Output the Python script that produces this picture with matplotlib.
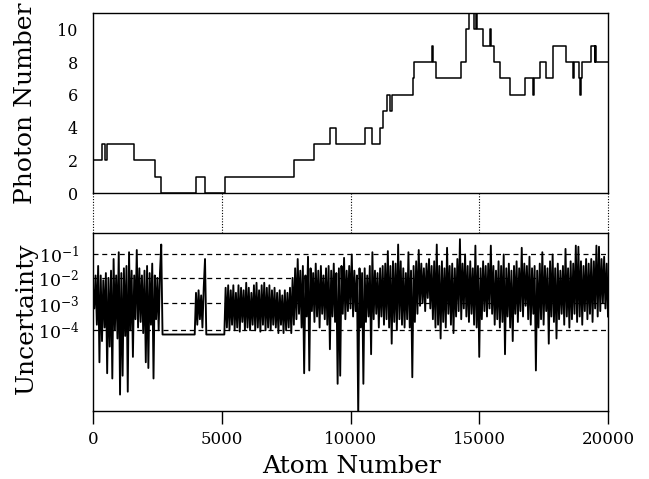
import numpy as np
import matplotlib
matplotlib.use("Agg")
import matplotlib.pyplot as plt
from matplotlib.ticker import NullLocator

plt.rcParams['font.family'] = ['DejaVu Serif']
plt.rcParams['mathtext.fontset'] = 'dejavuserif'

# ---------------- data ----------------
# top panel: photon number (step starts in atom number, level)
step_start = [0, 350, 450, 540, 1592, 2408, 2656, 3988, 4338, 5115, 7802, 8571, 9219, 9425,
              10551, 10823, 11160, 11262, 11418, 11520, 11620, 12440, 12480, 13150, 13185,
              13309, 14306, 14500, 14590, 14796, 14862, 14928, 15146, 15406, 15471, 15561,
              15794, 16209, 16765, 17100, 17130, 17348, 17607, 17864, 18383, 18650,
              18690, 18860, 18920, 18950, 19000, 19354, 19480, 19500, 19522]
photon_level = [2, 3, 2, 3, 2, 1, 0, 1, 0, 1, 2, 3, 4, 3,
                4, 3, 4, 5, 6, 5, 6, 7, 8, 9, 8,
                7, 8, 10, 11, 10, 11, 10, 9, 10, 9, 8,
                7, 6, 7, 6, 7, 8, 7, 9, 8, 7,
                8, 7, 6, 7, 8, 9, 8, 9, 8]
atom_max = 20000

# bottom panel: log10(uncertainty), sampled every 50 atoms
unc_0k = [-2.4, -3.2, -1.9, -3.8, -1.5, -5.1, -1.9, -4.38, -2.1, -3.9, -1.8, -5.46, -2.0, -4.57, -1.7, -5.63, -1.2, -4.0, -1.9, -4.29]
unc_1k = [-0.9, -6.14, -1.8, -5.54, -1.6, -4.2, -1.5, -6.05, -0.9, -4.0, -1.7, -4.92, -1.9, -3.6, -0.8, -3.9, -1.6, -3.7, -1.9, -4.1]
unc_2k = [-1.7, -5.1, -1.5, -5.29, -1.8, -3.8, -1.4, -5.63, -1.9, -3.6, -2.0, -4.0, -1.8, -0.55, -4.15, -4.15, -4.15, -4.15, -4.15, -4.15]
unc_3k = [-4.15, -4.15, -4.15, -4.15, -4.15, -4.15, -4.15, -4.15, -4.15, -4.15, -4.15, -4.15, -4.15, -4.15, -4.15, -4.15, -4.15, -4.15, -4.15, -4.15]
unc_4k = [-2.6, -3.8, -2.5, -3.6, -2.7, -3.9, -2.4, -1.2, -4.15, -4.15, -4.15, -4.15, -4.15, -4.15, -4.15, -4.15, -4.15, -4.15, -4.15, -4.15]
unc_5k = [-4.15, -4.15, -4.15, -2.4, -3.9, -2.3, -4.0, -2.5, -3.8, -2.3, -4.0, -2.6, -3.9, -2.3, -4.05, -2.4, -3.7, -2.5, -4.0, -2.2]
unc_6k = [-3.9, -2.4, -4.0, -2.6, -3.8, -2.3, -4.0, -2.2, -3.9, -2.5, -4.05, -2.3, -3.8, -2.2, -4.0, -2.4, -3.9, -2.3, -4.0, -2.5]
unc_7k = [-3.8, -2.4, -3.9, -2.6, -4.1, -2.5, -3.8, -2.7, -4.1, -2.5, -4.0, -2.6, -3.9, -2.4, -4.1, -2.0, -3.8, -1.6, -3.6, -1.2]
unc_8k = [-3.4, -1.7, -3.9, -1.5, -5.46, -1.9, -3.5, -1.1, -5.37, -1.6, -3.3, -1.8, -3.7, -1.4, -3.5, -1.7, -3.9, -1.5, -3.4, -1.9]
unc_9k = [-3.6, -1.6, -3.8, -1.5, -4.66, -1.7, -3.5, -1.4, -3.7, -1.8, -5.8, -1.6, -5.54, -1.5, -3.4, -1.15, -3.6, -1.7, -3.3, -1.5]
unc_10k = [-3.2, -1.0, -3.5, -1.7, -3.3, -1.9, -6.8, -1.6, -3.9, -1.8, -5.8, -1.6, -3.7, -1.9, -3.5, -1.5, -4.83, -0.9, -3.6, -1.7]
unc_11k = [-3.4, -1.8, -3.9, -1.6, -3.5, -1.5, -3.8, -1.4, -3.6, -0.85, -3.9, -1.5, -4.47, -1.3, -3.7, -1.4, -4.0, -0.55, -3.6, -1.3]
unc_12k = [-3.8, -1.6, -3.9, -1.8, -3.6, -0.9, -3.9, -1.7, -5.59, -1.5, -3.7, -1.3, -3.4, -0.8, -3.1, -1.4, -3.0, -1.6, -3.3, -1.4]
unc_13k = [-2.8, -1.2, -3.2, -1.5, -3.6, -1.3, -3.9, -0.55, -3.8, -1.5, -4.29, -1.3, -3.7, -1.6, -3.9, -0.7, -3.4, -1.5, -3.8, -1.4]
unc_14k = [-4.1, -1.6, -3.5, -1.2, -3.3, -0.3, -3.6, -1.4, -3.2, -1.0, -3.5, -1.5, -3.7, -1.3, -3.4, -1.6, -3.8, -0.6, -3.9, -1.5]
unc_15k = [-4.92, -1.6, -3.6, -1.3, -3.3, -1.5, -3.5, -1.4, -3.2, -0.6, -3.4, -1.5, -3.8, -1.7, -3.6, -1.3, -3.9, -1.5, -3.7, -1.0]
unc_16k = [-4.83, -1.6, -3.5, -1.4, -3.9, -1.7, -4.38, -1.5, -3.4, -1.3, -3.7, -1.6, -3.3, -0.7, -3.5, -1.4, -3.1, -1.5, -3.6, -1.1]
unc_17k = [-3.8, -1.6, -3.4, -1.5, -5.37, -1.7, -3.9, -1.4, -3.6, -0.9, -3.8, -1.5, -3.3, -1.6, -4.47, -1.3, -3.5, -1.0, -3.7, -1.6]
unc_18k = [-4.29, -1.4, -3.6, -1.7, -3.4, -1.5, -3.8, -0.75, -3.5, -1.6, -3.9, -1.3, -3.6, -1.4, -3.4, -0.6, -3.7, -0.65, -3.5, -1.3]
unc_19k = [-3.8, -1.5, -3.3, -1.2, -3.6, -1.4, -3.4, -1.2, -3.7, -1.3, -3.2, -0.6, -3.5, -0.65, -3.3, -1.2, -3.0, -1.1, -3.2, -1.4, -3.5]

x_ticks = [0, 5000, 10000, 15000, 20000]
photon_ticks = [0, 2, 4, 6, 8, 10]
unc_ticks = [1e-1, 1e-2, 1e-3, 1e-4]
unc_tick_labels = [r'$10^{-1}$', r'$10^{-2}$', r'$10^{-3}$', r'$10^{-4}$']

# ---------------- figure ----------------
W, H = 649, 479
fig = plt.figure(figsize=(W / 100, H / 100), dpi=100)

def box(l, t, r, b):
    return [l / W, 1 - b / H, (r - l) / W, (b - t) / H]

ax1 = fig.add_axes(box(93, 13, 608, 193))
axg = fig.add_axes(box(93, 193, 608, 232.5))
ax2 = fig.add_axes(box(93, 232.5, 608, 410.5))

# top panel
sx = step_start + [atom_max]
sy = photon_level + [photon_level[-1]]
ax1.step(sx, sy, where='post', color='k', lw=1.1)
ax1.set_xlim(0, atom_max)
ax1.set_ylim(0, 11)
ax1.set_xticks([])
ax1.set_yticks(photon_ticks)
ax1.tick_params(axis='y', length=0, pad=11, labelsize=11.5)

# gap with dotted guide lines
axg.set_xlim(0, atom_max)
axg.set_ylim(0, 1)
axg.axis('off')
for xv in x_ticks:
    axg.plot([xv, xv], [0, 1], color='k', lw=0.8, ls=(0, (1, 1.5)), clip_on=False)

# bottom panel with stretched logarithmic scale
A = 0.045
def fwd(u):
    L = np.log10(np.clip(u, 1e-15, None))
    return L - A * L ** 2
def inv(t):
    L = (1 - np.sqrt(np.clip(1 - 4 * A * t, 0, None))) / (2 * A)
    return 10.0 ** L

unc_log = unc_0k + unc_1k + unc_2k + unc_3k + unc_4k + unc_5k + unc_6k + unc_7k + unc_8k + unc_9k \
    + unc_10k + unc_11k + unc_12k + unc_13k + unc_14k + unc_15k + unc_16k + unc_17k + unc_18k + unc_19k
xs = np.linspace(0, atom_max, len(unc_log))
ax2.set_yscale('function', functions=(fwd, inv))
for yv in unc_ticks:
    ax2.axhline(yv, color='k', lw=0.9, ls=(0, (4, 3)), zorder=1)
ax2.plot(xs, 10.0 ** np.array(unc_log), color='k', lw=1.35, zorder=2)
ax2.set_xlim(0, atom_max)
ax2.set_ylim(10 ** -6.63, 10 ** 0.02)
ax2.set_yticks(unc_ticks)
ax2.set_yticklabels(unc_tick_labels)
ax2.yaxis.set_minor_locator(NullLocator())
ax2.tick_params(axis='y', length=0, pad=10, labelsize=12.5)
ax2.set_xticks(x_ticks)
ax2.set_xticklabels([str(v) for v in x_ticks])
ax2.tick_params(axis='x', direction='out', length=9, width=1, pad=6, labelsize=12)

for ax in (ax1, ax2):
    for s in ax.spines.values():
        s.set_linewidth(1.0)

fig.text(26 / W, 1 - 103 / H, 'Photon Number', rotation=90, ha='center', va='center', fontsize=18)
fig.text(26 / W, 1 - 318 / H, 'Uncertainty', rotation=90, ha='center', va='center', fontsize=18)
fig.text(352 / W, 1 - 473 / H, 'Atom Number', ha='center', va='baseline', fontsize=18)

fig.savefig('out.png', dpi=100)
